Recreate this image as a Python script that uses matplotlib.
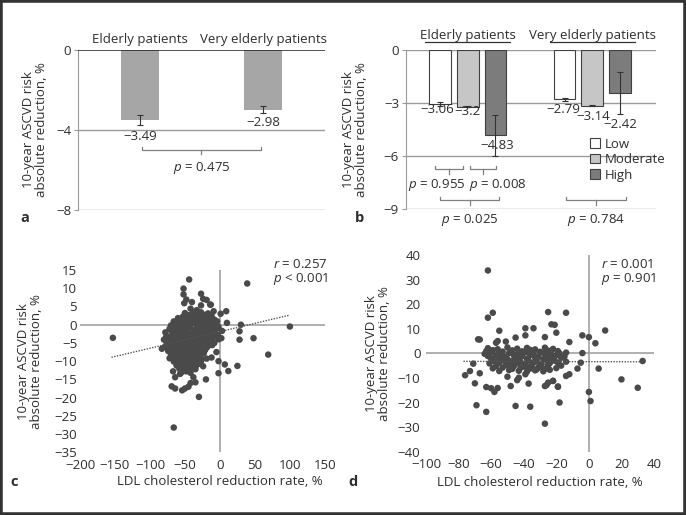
import matplotlib
matplotlib.use("Agg")
import matplotlib.pyplot as plt
from matplotlib.patches import Patch, Rectangle

plt.rcParams['font.family'] = ['Open Sans', 'DejaVu Sans']
plt.rcParams['font.size'] = 9.5
plt.rcParams['text.color'] = '#2e2e2e'
plt.rcParams['xtick.labelcolor'] = '#2e2e2e'
plt.rcParams['ytick.labelcolor'] = '#2e2e2e'
plt.rcParams['axes.labelcolor'] = '#2e2e2e'
plt.rcParams['mathtext.fontset'] = 'custom'
plt.rcParams['mathtext.rm'] = 'Open Sans'
plt.rcParams['mathtext.it'] = 'Open Sans:italic'

##############################################################################
# DATA

# panel a
a_groups = ["Elderly patients", "Very elderly patients"]
a_vals = [-3.49, -2.98]
a_err = [0.25, 0.19]

# panel b
b_levels = ["Low", "Moderate", "High"]
b_elderly = [-3.06, -3.2, -4.83]
b_elderly_err = [0.12, 0.03, 1.18]
b_very = [-2.79, -3.14, -2.42]
b_very_err = [0.10, 0.04, 1.20]

# panel c: elderly patients (LDL reduction rate %, risk reduction %)
c_ldl = [
    -50, -44, -38, -31, -27, -22, -17, -12,
    -60, -53, -47, -41, -35, -29, -24, -19, -13, -8,
    -66, -58, -52, -46, -40, -34, -30, -25, -21, -15, -10, -4,
    -70, -63, -57, -50, -45, -39, -33, -28, -23, -18, -12, -7, -2,
    -72, -66, -60, -54, -49, -43, -37, -32, -27, -22, -16, -11, -5,
    -78, -69, -63, -58, -52, -47, -41, -36, -30, -25, -19, -14, -8, 3,
    -75, -67, -61, -55, -50, -44, -39, -34, -28, -22, -17, -10, -3,
    -80, -72, -65, -59, -53, -48, -42, -37, -31, -26, -20, -13,
    -76, -68, -62, -56, -51, -45, -40, -35, -29, -23, -16,
    -79, -71, -64, -58, -53, -47, -42, -36, -31, -25, -18, -11,
    -74, -67, -60, -55, -49, -44, -38, -33, -27, -21,
    -70, -63, -57, -52, -46, -40, -35, -29, -23,
    -72, -65, -59, -54, -48, -42, -37, -31, -26,
    -66, -60, -55, -49, -44, -38, -33, -27,
    -62, -56, -51, -45, -40, -34, -29,
    -58, -52, -46, -41, -35,
    -55, -48, -42,
    # outlying points
    -153, -44, 39, 100, 69, 48, 28, 28, 30, 12, -2, -2, 7, 25, 9, 10, 1,
    -2, 2, -66, -30, -20, -54, -64, -69, -64, -67, -38, -42, -50, -14,
    -27, -24, -27, -13, -40, -52, -52, -48, -51, -42, -9, -19, -24, -83,
    -77, -35, -19, -8, -5, -12, -16, -45, -57, -33,
]
c_risk = [
    3.2, 2.6, 3.5, 2.9, 3.4, 2.7, 3.1, 2.5,
    1.8, 2.2, 1.6, 2.3, 1.9, 1.5, 2.1, 1.7, 2.0, 1.4,
    0.9, 1.2, 0.6, 1.1, 0.8, 1.3, 0.5, 1.0, 0.7, 1.2, 0.4, 0.9,
    -0.2, 0.3, -0.4, 0.1, -0.3, 0.4, -0.1, 0.2, -0.5, 0.0, 0.3, -0.2, -0.6,
    -1.1, -0.8, -1.3, -0.9, -1.2, -0.7, -1.4, -1.0, -0.8, -1.3, -1.1, -0.9, -1.2,
    -2.1, -1.8, -2.3, -1.9, -2.2, -1.7, -2.4, -2.0, -1.8, -2.3, -2.1, -1.9, -2.4, -1.7,
    -3.2, -2.8, -3.1, -3.4, -2.9, -3.3, -2.7, -3.0, -3.4, -2.9, -3.2, -3.5, -2.8,
    -4.1, -3.8, -4.3, -3.9, -4.2, -3.7, -4.4, -4.0, -3.8, -4.3, -4.1, -3.9,
    -5.2, -4.8, -5.1, -5.4, -4.9, -5.3, -4.7, -5.0, -5.4, -4.9, -5.2,
    -6.1, -5.8, -6.3, -5.9, -6.2, -5.7, -6.4, -6.0, -5.8, -6.3, -6.1, -5.6,
    -7.2, -6.8, -7.1, -7.4, -6.9, -7.3, -6.7, -7.0, -7.4, -6.9,
    -8.1, -7.8, -8.3, -7.9, -8.2, -7.7, -8.4, -8.0, -7.8,
    -9.2, -8.8, -9.1, -9.4, -8.9, -9.3, -8.7, -9.0, -9.4,
    -10.1, -9.8, -10.3, -9.9, -10.2, -9.7, -10.4, -10.0,
    -11.2, -10.8, -11.1, -11.4, -10.9, -11.3, -10.7,
    -12.1, -11.8, -12.3, -11.9, -12.2,
    -13.1, -12.8, -13.2,
    -3.6, 12.4, 11.3, -0.5, -8.2, -3.7, -1.8, -4.1, 0.0, -12.7, -13.3, -10.0, -10.9, -11.3, 3.7, 0.5, 3.0,
    -4.0, -3.7, -28.2, -19.8, -15.0, -18.0, -17.5, -16.9, -14.4, -12.8, -14.4, -16.0, -17.5, 5.5,
    8.5, 7.1, 5.3, 5.5, 6.2, 9.9, 8.3, 6.9, 5.9, 4.4, 3.7, -9.3, -11.4, -6.6,
    -3.4, -15.8, 6.8, -5.0, -7.5, -9.0, -3.0, -17.0, -13.5, 4.0,
]
c_fit_x = [-155, 100]
c_fit_y = [-8.95, 2.65]

# panel d: very elderly patients
d_ldl = [
    -62, -56, -50, -44, -38, -33, -27, -22,
    -63, -59, -53, -47, -41, -36, -30, -25, -19,
    -64, -60, -55, -49, -44, -39, -34, -28, -23, -18, -14,
    -62, -57, -52, -46, -41, -36, -31, -26, -20, -15,
    -60, -55, -50, -44, -38, -33, -28, -23, -17,
    -58, -53, -47, -42, -37, -32, -26, -21, -14,
    -61, -55, -49, -44, -39, -34, -29, -24, -19,
    -57, -51, -46, -40, -35, -30, -25, -17,
    -59, -53, -47, -42, -36, -31, -27, -20,
    -55, -49, -43, -38, -33, -28, -24,
    # scattered points
    -62, -62, -59, -25, -14, 10, 0, -4, 4, -4, 33, 20, 6, 30, 0, 1,
    -5, -7, -12, -14, -18, -19, -22, -25, -27, -27, -36, -45, -48, -56,
    -58, -63, -60, -63, -69, -70, -67, -68, -73, -76, -71, -55, -56, -45,
    -39, -34, -39, -27, -23, -21, -20, -67, -57, -51, -37, -26, -44, -43,
    -39, -32, -22, -12, -19, -50, -38,
]
d_risk = [
    2.1, 1.7, 2.4, 1.9, 2.2, 1.6, 2.3, 1.8,
    0.9, 1.3, 0.7, 1.2, 0.8, 1.4, 0.6, 1.1, 0.9,
    -0.2, 0.3, -0.4, 0.1, -0.3, 0.4, -0.1, 0.2, -0.5, 0.0, 0.3,
    -1.1, -0.8, -1.3, -0.9, -1.2, -0.7, -1.4, -1.0, -0.8, -1.3,
    -2.1, -1.8, -2.3, -1.9, -2.2, -1.7, -2.4, -2.0, -1.8,
    -3.2, -2.8, -3.1, -3.4, -2.9, -3.3, -2.7, -3.0, -3.4,
    -4.1, -3.8, -4.3, -3.9, -4.2, -3.7, -4.4, -4.0, -3.8,
    -5.2, -4.8, -5.1, -5.4, -4.9, -5.3, -4.7, -5.0,
    -6.1, -5.8, -6.3, -5.9, -6.2, -5.7, -6.4, -6.0,
    -7.2, -6.8, -7.1, -7.4, -6.9, -7.3, -6.7,
    33.7, 14.5, 16.5, 16.8, 16.5, 9.3, 6.6, 7.3, 4.1, 0.1, -3.1, -10.6, -6.2, -14.0, -15.7, -19.4,
    -3.8, -6.2, 4.6, -9.2, -20.0, -13.5, -11.2, -11.9, -13.3, -28.6, -21.7, -21.4, -13.3, -14.1,
    -15.7, -13.7, -14.2, -23.8, -21.1, -12.2, -8.1, 5.7, -7.2, -8.9, -4.2, 9.2, 5.0, 6.4,
    10.2, 10.2, 7.3, 6.6, 11.8, 11.6, 8.4, 5.6, 4.3, 4.8, -12.3, -12.9, -10.9, -9.9,
    -8.5, -6.5, -11.2, -8.5, -13.6, -9.5, -5.5,
]
d_fit_x = [-77, 33]
d_fit_y = [-3.25, -3.45]

##############################################################################
# PLOTTING

grey_line = "#9a9a9a"
dot = "#4a4a4a"
bracket = "#808080"

fig = plt.figure(figsize=(6.86, 5.15), dpi=100)

# a: bar chart by age group
ax = fig.add_axes([0.1137, 0.5922, 0.36, 0.3107])
a_pos = [0, 1]
for y in [-4, -8]:
    ax.axhline(y, color=grey_line, lw=1.0, zorder=0)
ax.bar(a_pos, a_vals, width=0.31, color="#a6a6a6", zorder=2,
       yerr=a_err, error_kw=dict(ecolor="#333333", elinewidth=0.8,
                                 capsize=2.5, capthick=0.8))
ax.axhline(0, color="#222222", lw=1.1, zorder=3)
ax.set_xlim(-0.5, 1.5); ax.set_ylim(-8, 0)
ax.set_yticks([0, -4, -8])
ax.set_xticks([])
for s in ["top", "right", "bottom"]:
    ax.spines[s].set_visible(False)
ax.spines["left"].set_color(grey_line)
ax.tick_params(axis="y", length=3, color=grey_line, pad=2)
ax.set_ylabel("10-year ASCVD risk\nabsolute reduction, %", linespacing=1.0)
ax.yaxis.set_label_coords(-0.12, 0.5)
for x, name in zip(a_pos, a_groups):
    ax.text(x, 0.22, name, ha="center", va="bottom")
ax.text(0, -4.33, "\u22123.49", ha="center", va="center")
ax.text(1, -3.63, "\u22122.98", ha="center", va="center")
ax.plot([0.02, 0.02, 0.98, 0.98], [-4.87, -5.0, -5.0, -4.87], color=bracket, lw=0.9)
ax.plot([0.5, 0.5], [-5.0, -5.2], color=bracket, lw=0.9)
ax.text(0.5, -5.9, "$p$ = 0.475", ha="center", va="center")

# b: bar chart by risk level
ax = fig.add_axes([0.5918, 0.5936, 0.3644, 0.3093])
b_colors = ["white", "#c6c6c6", "#7c7c7c"]
for y in [0, -3, -6, -9]:
    ax.axhline(y, color=grey_line, lw=1.0, zorder=0)
pos_e = [0, 1, 2]
pos_v = [4.5, 5.5, 6.5]
for pos, vals, errs in [(pos_e, b_elderly, b_elderly_err), (pos_v, b_very, b_very_err)]:
    ax.bar(pos, vals, width=0.78, color=b_colors, edgecolor="#404040", lw=0.8, zorder=2,
           yerr=errs, error_kw=dict(ecolor="#333333", elinewidth=0.8,
                                    capsize=2.5, capthick=0.8))
ax.set_xlim(-1.23, 7.8); ax.set_ylim(-9, 0)
ax.set_yticks([0, -3, -6, -9])
ax.set_xticks([])
for s in ["top", "right", "bottom"]:
    ax.spines[s].set_visible(False)
ax.spines["left"].set_color(grey_line)
ax.tick_params(axis="y", length=3, color=grey_line, pad=2)
ax.set_ylabel("10-year ASCVD risk\nabsolute reduction, %", linespacing=1.0)
ax.yaxis.set_label_coords(-0.15, 0.5)

b_label_x = [-0.11, 0.98, 2.05, 4.45, 5.52, 6.52]
b_label_y = [-3.36, -3.49, -5.4, -3.36, -3.74, -4.2]
for x, y, v in zip(b_label_x, b_label_y, b_elderly + b_very):
    ax.text(x, y, f"{v:g}".replace("-", "\u2212"), ha="center", va="center")

ax.text(1.0, 0.8, "Elderly patients", ha="center", va="center")
ax.plot([-0.53, 2.53], [0.47, 0.47], color="#333333", lw=0.9, clip_on=False)
ax.text(5.52, 0.8, "Very elderly patients", ha="center", va="center")
ax.plot([3.98, 7.06], [0.47, 0.47], color="#333333", lw=0.9, clip_on=False)

def brace(ax, x0, x1, y, txt, tx, ty):
    ax.plot([x0, x0, x1, x1], [y + 0.18, y, y, y + 0.18], color=bracket, lw=0.9, clip_on=False)
    xm = (x0 + x1) / 2
    ax.plot([xm, xm], [y, y - 0.25], color=bracket, lw=0.9, clip_on=False)
    ax.text(tx, ty, txt, ha="center", va="center")

brace(ax, -0.17, 0.84, -6.74, "$p$ = 0.955", -0.11, -7.64)
brace(ax, 1.10, 2.02, -6.74, "$p$ = 0.008", 2.08, -7.64)
brace(ax, 0.0, 2.14, -8.5, "$p$ = 0.025", 1.06, -9.58)
brace(ax, 4.55, 6.70, -8.5, "$p$ = 0.784", 5.64, -9.58)

handles = [Patch(facecolor=c, edgecolor="#404040", lw=0.8) for c in b_colors]
ax.legend(handles, b_levels, loc="upper left", bbox_to_anchor=(0.735, 0.45),
          frameon=False, handlelength=0.75, handleheight=0.75, handletextpad=0.4,
          labelspacing=0.2, borderpad=0, borderaxespad=0, fontsize=9.5)

# c and d: scatter plots
def scatter_panel(rect, xs, ys, fit_x, fit_y, xlim, ylim, xticks, yticks,
                  txt_x, txt_y, ptxt, ypad, xlab_x):
    ax = fig.add_axes(rect)
    ax.axhline(0, color=grey_line, lw=1.1, zorder=0)
    ax.axvline(0, color=grey_line, lw=1.1, zorder=0)
    ax.scatter(xs, ys, s=22, color=dot, edgecolors="none", zorder=2)
    ax.plot(fit_x, fit_y, color="#555555", lw=1.0, ls=(0, (1, 1)), zorder=3)
    ax.set_xlim(xlim); ax.set_ylim(ylim)
    ax.set_xticks(xticks); ax.set_yticks(yticks)
    for s in ax.spines.values():
        s.set_visible(False)
    ax.tick_params(axis="x", length=0, pad=4.5)
    ax.tick_params(axis="y", length=0, pad=ypad)
    ax.set_ylabel("10-year ASCVD risk\nabsolute reduction, %", linespacing=1.0)
    ax.set_xlabel("LDL cholesterol reduction rate, %")
    ax.xaxis.set_label_coords(xlab_x, -0.125)
    ax.text(txt_x, txt_y[0], "$r$ = " + ptxt[0], ha="left", va="center")
    ax.text(txt_x, txt_y[1], "$p$ " + ptxt[1], ha="left", va="center")
    return ax

ax = scatter_panel([0.1166, 0.1217, 0.357, 0.354], c_ldl, c_risk, c_fit_x, c_fit_y,
                   (-200, 150), (-35, 15), range(-200, 151, 50), range(-35, 16, 5),
                   76, [16.4, 12.4], ["0.257", "< 0.001"], 2, 0.571)
ax.yaxis.set_label_coords(-0.151, 0.5)

ax = scatter_panel([0.621, 0.1229, 0.3324, 0.382], d_ldl, d_risk, d_fit_x, d_fit_y,
                   (-100, 40), (-40, 40), range(-100, 41, 20), range(-40, 41, 10),
                   7.6, [36.2, 30.1], ["0.001", "= 0.901"], 4, 0.499)
ax.yaxis.set_label_coords(-0.154, 0.5)

# panel letters
for x, y, letter in [(25, 218, "a"), (359, 218, "b"), (14, 482, "c"), (353, 482, "d")]:
    fig.text(x / 686, 1 - y / 515, letter, ha="center", va="center",
             weight="bold", fontsize=10.5)

# dark frame around the whole figure
fig.patches.append(Rectangle((0, 0), 1, 1, transform=fig.transFigure, fill=False,
                             edgecolor="#333333", lw=4))

fig.savefig("out.png", dpi=100)
